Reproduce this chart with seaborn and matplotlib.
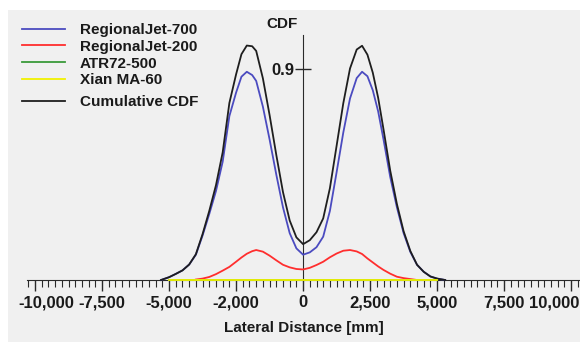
import numpy as np
import pandas as pd
import seaborn as sns
import matplotlib.pyplot as plt
import matplotlib.transforms as mtransforms
from matplotlib.patches import Rectangle

nan = np.nan

# lateral positions [mm] and CDF values
lateral_mm = [-5300, -5000, -4750, -4500, -4250, -4000, -3750, -3500, -3250, -3000,
              -2750, -2500, -2300, -2100, -1900, -1750, -1500, -1250, -1000, -750,
              -500, -250, 0, 250, 500, 750, 1000, 1250, 1500, 1750,
              2000, 2200, 2400, 2600, 2800, 3000, 3250, 3500, 3750, 4000,
              4250, 4500, 4750, 5000, 5300]
rj700 = [0.0, 0.012, 0.026, 0.041, 0.066, 0.108, 0.19, 0.282, 0.38, 0.505,
         0.70, 0.80, 0.868, 0.889, 0.875, 0.85, 0.74, 0.60, 0.45, 0.31,
         0.20, 0.135, 0.108, 0.118, 0.14, 0.185, 0.295, 0.46, 0.63, 0.775,
         0.862, 0.889, 0.87, 0.81, 0.72, 0.60, 0.44, 0.31, 0.20, 0.12,
         0.065, 0.035, 0.015, 0.006, 0.0]
rj200 = [nan, nan, nan, nan, nan, 0.002, 0.006, 0.013, 0.025, 0.04,
         0.056, 0.078, 0.096, 0.112, 0.123, 0.128, 0.121, 0.104, 0.084, 0.065,
         0.054, 0.047, 0.045, 0.052, 0.064, 0.078, 0.097, 0.113, 0.125, 0.128,
         0.122, 0.111, 0.092, 0.075, 0.058, 0.043, 0.027, 0.014, 0.008, 0.004,
         0.0, nan, nan, nan, nan]
atr72 = [nan, 0.0, 0.0, 0.0, 0.0, 0.0, 0.0, 0.0, 0.0, 0.0,
         0.0, 0.0, 0.0, 0.0, 0.0, 0.0, 0.0, 0.0, 0.0, 0.0,
         0.0, 0.0, 0.0, 0.0, 0.0, 0.0, 0.0, 0.0, 0.0, 0.0,
         0.0, 0.0, 0.0, 0.0, 0.0, 0.0, 0.0, 0.0, 0.0, 0.0,
         0.0, 0.0, 0.0, 0.0, nan]
xian = [nan, 0.0, 0.0, 0.0, 0.0, 0.0, 0.0, 0.0, 0.0, 0.0,
        0.0, 0.0, 0.0, 0.0, 0.0, 0.0, 0.0, 0.0, 0.0, 0.0,
        0.0, 0.0, 0.0, 0.0, 0.0, 0.0, 0.0, 0.0, 0.0, 0.0,
        0.0, 0.0, 0.0, 0.0, 0.0, 0.0, 0.0, 0.0, 0.0, 0.0,
        0.0, 0.0, 0.0, 0.0, nan]

x_ticks = [-10000, -7500, -5000, -2500, 0, 2500, 5000, 7500, 10000]
x_tick_labels = ['-10,000', '-7,500', '-5,000', '-2,000', '0', '2,500', '5,000', '7,500', '10,000']

names = ['RegionalJet-700', 'RegionalJet-200', 'ATR72-500', 'Xian MA-60', 'Cumulative CDF']
colors = {'RegionalJet-700': '#4b4bc0', 'RegionalJet-200': '#ff2e2e', 'ATR72-500': '#3a9a3a',
          'Xian MA-60': '#f2f200', 'Cumulative CDF': '#1e1e1e'}

# cumulative curve is the sum of the aircraft curves
cumulative = (np.array(rj700) + np.nan_to_num(np.array(rj200)) + np.nan_to_num(np.array(atr72))
              + np.nan_to_num(np.array(xian))).tolist()

series = {'RegionalJet-700': rj700, 'RegionalJet-200': rj200, 'ATR72-500': atr72,
          'Xian MA-60': xian, 'Cumulative CDF': cumulative}
frames = []
for n in names:
    d = pd.DataFrame({'x': lateral_mm, 'cdf': series[n], 'aircraft': n}).dropna()
    frames.append(d)
df = pd.concat(frames, ignore_index=True)

plt.rcParams['font.family'] = ['Liberation Sans', 'DejaVu Sans']
text_col = '#1a1a1a'
fs = 11

fig = plt.figure(figsize=(5.8, 3.42), dpi=100)
fig.patch.set_facecolor('white')
fig.add_artist(Rectangle((8 / 580, 0), 1, 1 - 10 / 342, transform=fig.transFigure,
                         facecolor='#f0f0f0', edgecolor='none', zorder=0))

ax = fig.add_axes([27 / 580, 62 / 342, 553 / 580, 245 / 342])
ax.patch.set_visible(False)

draw_order = ['RegionalJet-700', 'RegionalJet-200', 'ATR72-500', 'Cumulative CDF', 'Xian MA-60']
for n in draw_order:
    sns.lineplot(data=df[df['aircraft'] == n], x='x', y='cdf', color=colors[n], lw=1.3,
                 estimator=None, sort=False, ax=ax, label=n, clip_on=False, zorder=3)

ax.set_xlim(-10300, 10330)
ax.set_ylim(0, 1.046)

for s in ['top', 'right']:
    ax.spines[s].set_visible(False)
ax.spines['left'].set_position(('data', 0))
ax.spines['left'].set_color('#2a2a2a')
ax.spines['bottom'].set_color('#2a2a2a')

ax.set_xticks(x_ticks)
ax.set_xticklabels(x_tick_labels, fontsize=12, fontweight='bold', color=text_col)
ax.set_xticks(np.arange(-10250, 10330, 250), minor=True)
ax.tick_params(axis='x', which='major', length=8, width=1, color='#2a2a2a', pad=3)
ax.tick_params(axis='x', which='minor', length=5, width=0.8, color='#2a2a2a')

ax.set_yticks([0.9])
ax.set_yticklabels(['0.9'], fontsize=12, fontweight='bold', color=text_col)
ax.tick_params(axis='y', direction='inout', length=11, width=1, color='#2a2a2a', pad=1)

ax.set_xlabel('Lateral Distance [mm]', fontsize=fs, fontweight='bold', color=text_col, labelpad=8)
ax.set_ylabel('')
ax.annotate('CDF', xy=(0, 1.046), xytext=(-4, 3), textcoords='offset points',
            ha='right', va='bottom', fontsize=fs, fontweight='bold', color=text_col)

# shift the outer tick labels inward like the original
lbls = ax.get_xticklabels()
lbls[0].set_transform(lbls[0].get_transform() + mtransforms.ScaledTranslation(0.11, 0, fig.dpi_scale_trans))
lbls[-1].set_transform(lbls[-1].get_transform() + mtransforms.ScaledTranslation(-0.17, 0, fig.dpi_scale_trans))

# legends: four aircraft, then cumulative a bit lower
handles, labels = ax.get_legend_handles_labels()
hmap = dict(zip(labels, handles))
ax.get_legend().remove()
leg_kw = dict(frameon=False, loc='upper left', bbox_transform=fig.transFigure, borderaxespad=0,
              borderpad=0, handlelength=2.8, handletextpad=1.0, labelspacing=0.18,
              prop={'size': fs, 'weight': 'bold'})
leg1 = ax.legend([hmap[n] for n in names[:4]], names[:4], bbox_to_anchor=(22 / 580, 1 - 23 / 342), **leg_kw)
for t in leg1.get_texts():
    t.set_color(text_col)
ax.add_artist(leg1)
leg2 = ax.legend([hmap[names[4]]], [names[4]], bbox_to_anchor=(22 / 580, 1 - 95 / 342), **leg_kw)
for t in leg2.get_texts():
    t.set_color(text_col)

fig.savefig('out.png', dpi=100)
